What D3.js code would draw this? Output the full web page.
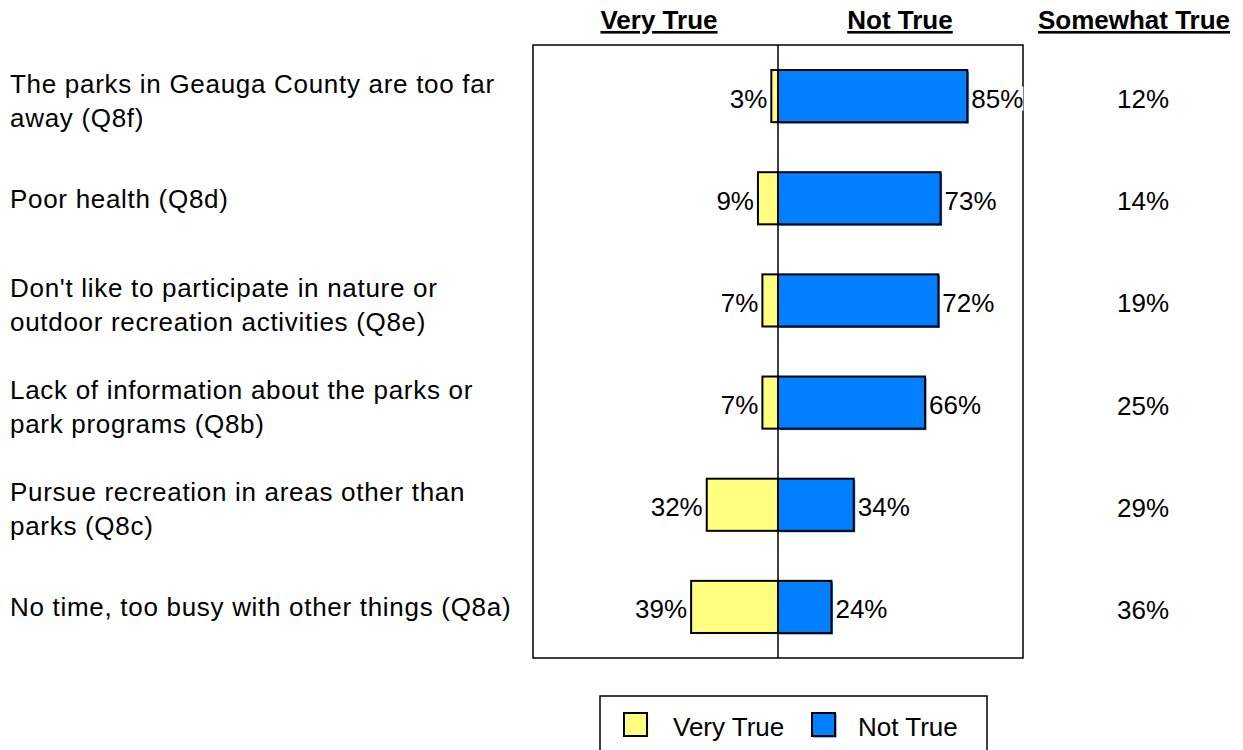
<!DOCTYPE html>
<html><head><meta charset="utf-8">
<script src="https://cdn.jsdelivr.net/npm/d3@7"></script>
<style>body{margin:0;background:#fff;} text{font-family:"Liberation Sans",Arial,sans-serif;fill:#000;}</style>
</head><body>
<svg id="c" width="1243" height="750"></svg>
<script>
const categories = [
  ["The parks in Geauga County are too far", "away (Q8f)"],
  ["Poor health (Q8d)"],
  ["Don't like to participate in nature or", "outdoor recreation activities (Q8e)"],
  ["Lack of information about the parks or", "park programs (Q8b)"],
  ["Pursue recreation in areas other than", "parks (Q8c)"],
  ["No time, too busy with other things (Q8a)"]
];
const veryTrue = [3, 9, 7, 7, 32, 39];
const notTrue = [85, 73, 72, 66, 34, 24];
const somewhatTrue = [12, 14, 19, 25, 29, 36];
const headers = ["Very True", "Not True", "Somewhat True"];

(function () {
const svg = d3.select("#c");
const pL = 533, pR = 1023, pT = 45, pB = 658;
const x = d3.scaleLinear().domain([-110, 110]).range([pL, pR]);
const y = d3.scaleBand().domain(d3.range(categories.length)).range([pT, pB]).paddingInner(0.49).paddingOuter(0.245);
const yellow = "#FFFF80", blue = "#0080FF";
const fs = 26;

// headers
const hx = [659, 900, 1134];
headers.forEach((h, i) => {
  svg.append("text").attr("x", hx[i]).attr("y", 29).attr("text-anchor", "middle")
    .attr("font-size", 26).attr("font-weight", "bold").attr("text-decoration", "underline")
    .text(h);
});

// frame
svg.append("rect").attr("x", pL).attr("y", pT).attr("width", pR - pL).attr("height", pB - pT)
  .attr("fill", "none").attr("stroke", "#000").attr("stroke-width", 1.5);

const rows = svg.selectAll("g.row").data(categories).join("g").attr("class", "row");

// shadows
rows.append("rect").attr("x", (d, i) => x(-veryTrue[i]) + 1.5).attr("y", (d, i) => y(i) + 1.5)
  .attr("width", (d, i) => x(0) - x(-veryTrue[i])).attr("height", y.bandwidth()).attr("fill", yellow);
rows.append("rect").attr("x", (d, i) => x(0) + 1.5).attr("y", (d, i) => y(i) + 1.5)
  .attr("width", (d, i) => x(notTrue[i]) - x(0)).attr("height", y.bandwidth()).attr("fill", blue);

rows.append("rect").attr("x", (d, i) => x(-veryTrue[i])).attr("y", (d, i) => y(i))
  .attr("width", (d, i) => x(0) - x(-veryTrue[i])).attr("height", y.bandwidth())
  .attr("fill", yellow).attr("stroke", "#000").attr("stroke-width", 2);
rows.append("rect").attr("x", (d, i) => x(0)).attr("y", (d, i) => y(i))
  .attr("width", (d, i) => x(notTrue[i]) - x(0)).attr("height", y.bandwidth())
  .attr("fill", blue).attr("stroke", "#000").attr("stroke-width", 2);

// zero line
svg.append("line").attr("x1", x(0)).attr("x2", x(0)).attr("y1", pT).attr("y2", pB)
  .attr("stroke", "#000").attr("stroke-width", 1.5);

const cy = i => y(i) + y.bandwidth() / 2;
function labelWithBg(sel) {
  sel.each(function () {
    const b = this.getBBox();
    d3.select(this.parentNode).insert("rect", () => this)
      .attr("x", b.x).attr("y", b.y + 3).attr("width", b.width).attr("height", b.height - 6)
      .attr("fill", "#fff");
  });
}
const vt = rows.append("text").attr("x", (d, i) => x(-veryTrue[i]) - 4).attr("y", (d, i) => cy(i) + 11.5)
  .attr("text-anchor", "end").attr("font-size", fs)
  .text((d, i) => veryTrue[i] + "%");
const nt = rows.append("text").attr("x", (d, i) => x(notTrue[i]) + 4).attr("y", (d, i) => cy(i) + 11.5)
  .attr("text-anchor", "start").attr("font-size", fs)
  .text((d, i) => notTrue[i] + "%");
labelWithBg(vt);
labelWithBg(nt);
rows.append("text").attr("x", 1143).attr("y", (d, i) => cy(i) + 12)
  .attr("text-anchor", "middle").attr("font-size", fs)
  .text((d, i) => somewhatTrue[i] + "%");

// category labels
rows.each(function (d, i) {
  const g = d3.select(this);
  const n = d.length, lh = 34;
  const off = n > 1 ? 4 : 0;
  d.forEach((line, k) => {
    g.append("text").attr("x", 10).attr("y", cy(i) + off + 9.5 + (k - (n - 1) / 2) * lh)
      .attr("font-size", fs).attr("letter-spacing", 0.7).text(line);
  });
});

// legend
const lg = svg.append("g");
lg.append("rect").attr("x", 600).attr("y", 696).attr("width", 387).attr("height", 70)
  .attr("fill", "#fff").attr("stroke", "#000").attr("stroke-width", 1.5);
const items = [{name: headers[0], c: yellow, sx: 624, tx: 673}, {name: headers[1], c: blue, sx: 812, tx: 858}];
items.forEach(it => {
  lg.append("rect").attr("x", it.sx + 1.5).attr("y", 714.5).attr("width", 23).attr("height", 23).attr("fill", it.c);
  lg.append("rect").attr("x", it.sx).attr("y", 713).attr("width", 23).attr("height", 23)
    .attr("fill", it.c).attr("stroke", "#000").attr("stroke-width", 2);
  lg.append("text").attr("x", it.tx).attr("y", 736)
    .attr("font-size", fs).text(it.name);
});
})();
</script>
</body></html>
